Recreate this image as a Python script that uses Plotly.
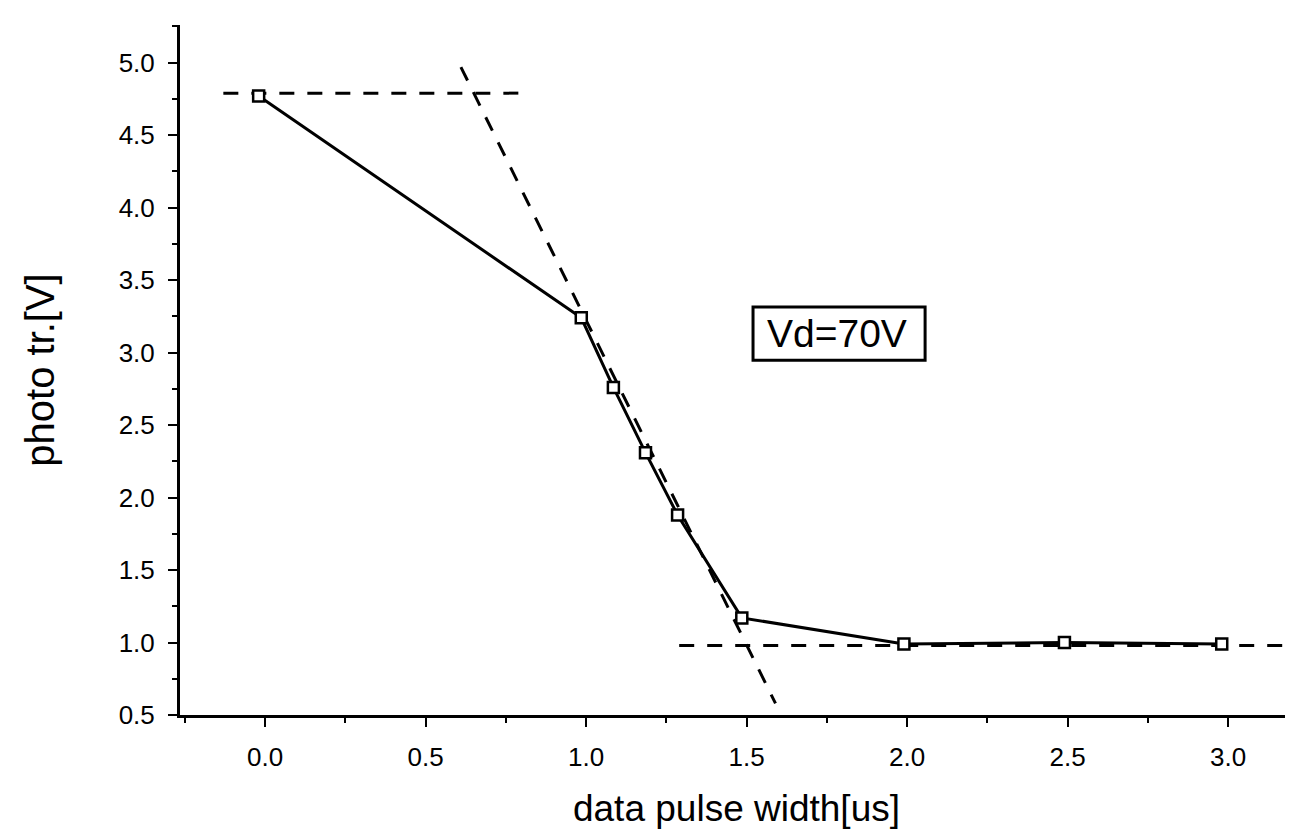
import plotly.graph_objects as go

# Measured data
pulse_width = [-0.02, 0.985, 1.085, 1.185, 1.285, 1.485, 1.99, 2.49, 2.98]
photo_tr = [4.77, 3.24, 2.76, 2.31, 1.88, 1.17, 0.99, 1.00, 0.99]

# Guide (dashed) lines
upper_guide_x = [-0.13, 0.82]
upper_guide_y = [4.79, 4.79]
slope_guide_x = [0.61, 1.59]
slope_guide_y = [4.97, 0.58]
lower_guide_x = [1.29, 3.22]
lower_guide_y = [0.98, 0.98]

x_ticks = [0.0, 0.5, 1.0, 1.5, 2.0, 2.5, 3.0]
y_ticks = [0.5, 1.0, 1.5, 2.0, 2.5, 3.0, 3.5, 4.0, 4.5, 5.0]

label_text = "Vd=70V"

fig = go.Figure()

dash_style = dict(color="black", width=3, dash="15px,13px")
for gx, gy in [(upper_guide_x, upper_guide_y), (slope_guide_x, slope_guide_y),
               (lower_guide_x, lower_guide_y)]:
    fig.add_trace(go.Scatter(x=gx, y=gy, mode="lines", line=dash_style,
                             showlegend=False, hoverinfo="skip"))

fig.add_trace(go.Scatter(
    x=pulse_width, y=photo_tr, mode="lines+markers",
    line=dict(color="black", width=3),
    marker=dict(symbol="square", size=11, color="white",
                line=dict(color="black", width=2.5)),
    showlegend=False))

font_family = "Liberation Sans, Arial, sans-serif"

fig.update_layout(
    width=1285, height=821,
    paper_bgcolor="white", plot_bgcolor="white",
    margin=dict(l=172, r=0, t=17, b=114),
    font=dict(family=font_family, color="black"),
    xaxis=dict(
        range=[-0.265, 3.202], tickvals=x_ticks,
        ticktext=[f"{v:.1f}" for v in x_ticks],
        showgrid=False, zeroline=False,
        showline=True, linecolor="black", linewidth=3,
        ticks="outside", ticklen=9, tickwidth=2, tickcolor="black",
        minor=dict(dtick=0.25, tick0=0, ticks="outside", ticklen=5,
                   tickwidth=2, tickcolor="black", showgrid=False),
        tickfont=dict(size=26, family=font_family),
        ticklabelstandoff=8,
        title=dict(text="data pulse width[us]",
                   font=dict(size=37, family=font_family), standoff=24),
    ),
    yaxis=dict(
        range=[0.5, 5.26], tickvals=y_ticks,
        ticktext=[f"{v:.1f}" for v in y_ticks],
        showgrid=False, zeroline=False,
        showline=True, linecolor="black", linewidth=3,
        ticks="outside", ticklen=9, tickwidth=2, tickcolor="black",
        minor=dict(dtick=0.25, tick0=0.5, ticks="outside", ticklen=5,
                   tickwidth=2, tickcolor="black", showgrid=False),
        tickfont=dict(size=26, family=font_family),
        ticklabelstandoff=8,
        title=dict(text="photo tr.[V]",
                   font=dict(size=40, family=font_family), standoff=52),
    ),
    shapes=[dict(
        type="rect", xref="x", yref="y", x0=1.52, x1=2.056, y0=2.948, y1=3.314,
        line=dict(color="black", width=3), fillcolor="white", layer="below",
    )],
    annotations=[dict(
        x=1.783, y=3.135, xref="x", yref="y", text=label_text,
        showarrow=False, font=dict(size=39, family=font_family, color="black"),
    )],
)

fig.write_html("out.html")
